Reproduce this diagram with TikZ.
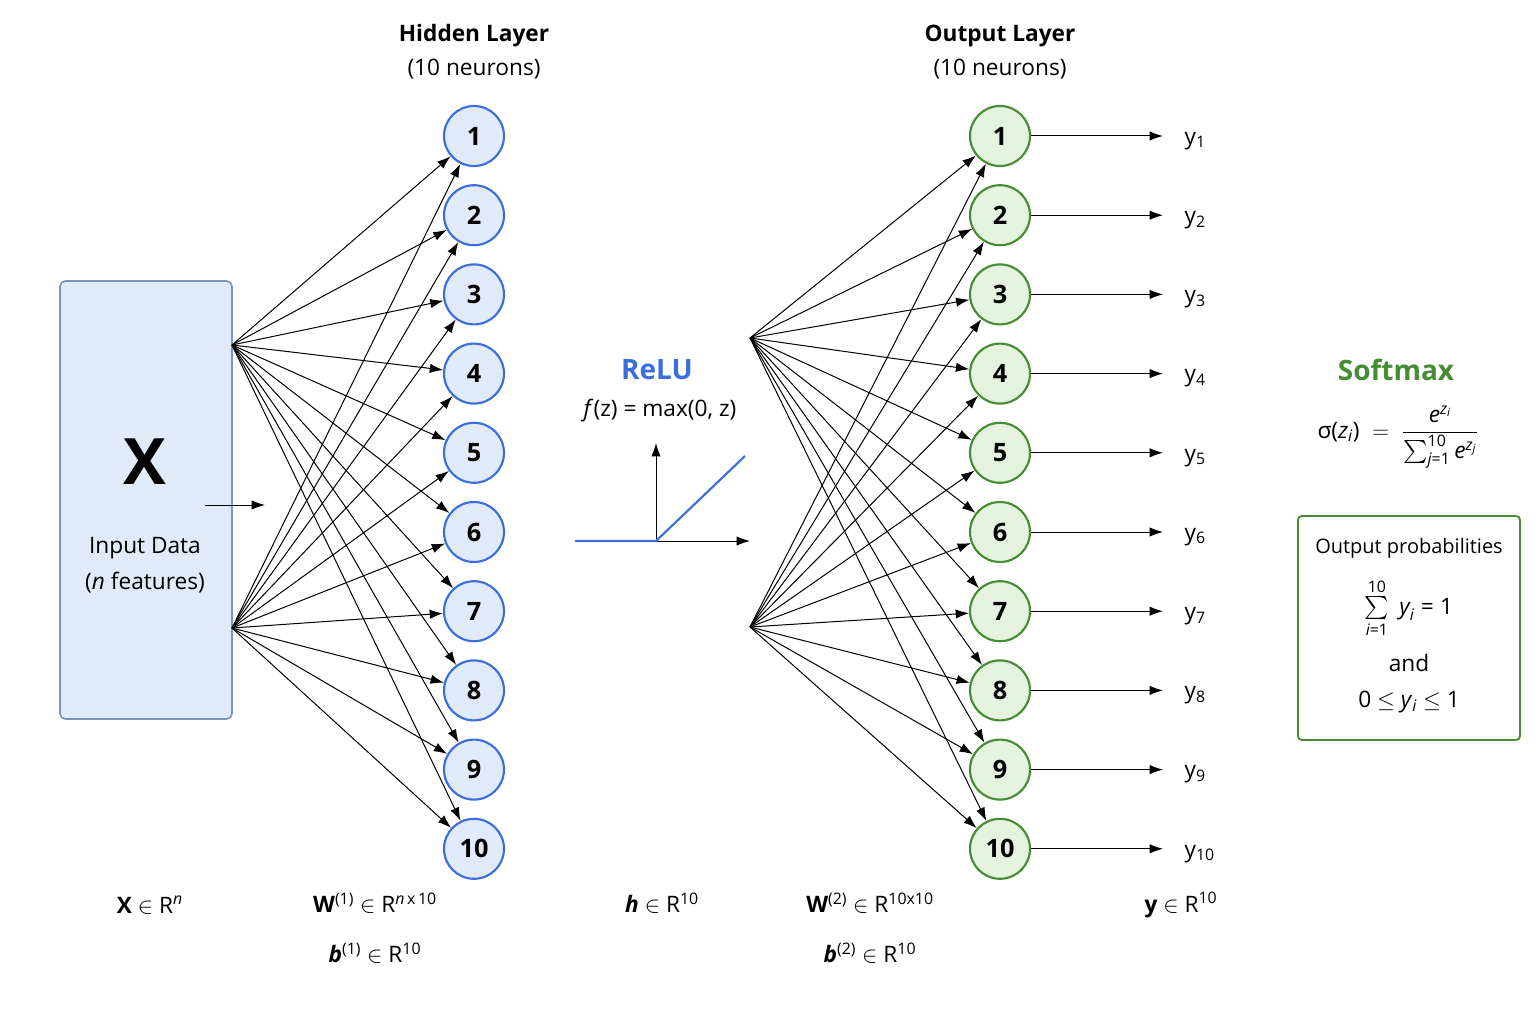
\documentclass[tikz,border=0pt]{standalone}
\usepackage{amsmath}
\usepackage{fontspec}
\setmainfont{Open Sans}
\usetikzlibrary{arrows.meta}
\definecolor{hidblue}{RGB}{58,110,220}
\definecolor{hidfill}{RGB}{225,234,248}
\definecolor{outgreen}{RGB}{70,140,50}
\definecolor{outfill}{RGB}{228,242,222}
\definecolor{inbord}{RGB}{120,150,190}
\newcommand{\tx}[1]{\text{#1}}
\newcommand{\ti}[1]{\textit{#1}}
\tikzset{
  hid/.style={circle,draw=hidblue,fill=hidfill,line width=1.6pt,minimum size=45pt,inner sep=0pt,font=\fontsize{19}{21}\selectfont\bfseries},
  outn/.style={circle,draw=outgreen,fill=outfill,line width=1.6pt,minimum size=45pt,inner sep=0pt,font=\fontsize{19}{21}\selectfont\bfseries},
  wire/.style={-{Latex[length=10pt,width=7pt]},line width=0.75pt},
  lbl/.style={font=\fontsize{17}{20}\selectfont},
}
\begin{document}
\begin{tikzpicture}[x=0.75pt,y=0.75pt,yscale=-1,xscale=1]
\useasboundingbox (0,0) rectangle (1536,1024);

% input box
\draw [draw=inbord,fill=hidfill,line width=1.2pt,rounded corners=4pt] (60,281) rectangle (232,719);
\node (X) at (145,462) {\fontsize{48}{50}\selectfont\bfseries X};
\node [lbl] (indata) at (145,548) {Input Data};
\node [lbl] (infeat) at (145,583) {(\textit{n} features)};
\coordinate (a1) at (205,505);
\coordinate (a2) at (265,505);
\draw [wire] (a1) -- (a2);
\coordinate (inA) at (232,345);
\coordinate (inB) at (232,628);

% hidden layer
\node [lbl,font=\fontsize{17}{20}\selectfont\bfseries] (htitle) at (474,36) {Hidden Layer};
\node [lbl] (hsub) at (474,69) {(10 neurons)};
\foreach \i in {1,...,10}
  \node [hid] (h\i) at (474,{136+79.2*(\i-1)}) {\i};
\foreach \i in {1,...,10} {
  \draw [wire] (inA) -- (h\i);
  \draw [wire] (inB) -- (h\i);
}

% ReLU
\node [font=\fontsize{21}{24}\selectfont\bfseries,text=hidblue] (relu) at (657,370) {ReLU};
\node [lbl] (reluf) at (660,411) {\textit{f}(z) = max(0, z)};
\coordinate (r0) at (656,541);
\coordinate (rx) at (750,541);
\coordinate (ry) at (656,443);
\draw [wire] (r0) -- (rx);
\draw [wire] (r0) -- (ry);
\draw [hidblue,line width=1.6pt] (575,541) -- (r0) -- (745,456);

% output layer
\node [lbl,font=\fontsize{17}{20}\selectfont\bfseries] (otitle) at (1000,36) {Output Layer};
\node [lbl] (osub) at (1000,69) {(10 neurons)};
\coordinate (hA) at (750,338);
\coordinate (hB) at (750,627);
\foreach \i in {1,...,10} {
  \node [outn] (o\i) at (1000,{136+79.2*(\i-1)}) {\i};
  \coordinate (e\i) at (1163,{136+79.2*(\i-1)});
  \node [lbl,anchor=west] (y\i) at (1180,{141+79.2*(\i-1)}) {y$_{\tx{\i}}$};
}
\foreach \i in {1,...,10} {
  \draw [wire] (hA) -- (o\i);
  \draw [wire] (hB) -- (o\i);
  \draw [wire] (o\i) -- (e\i);
}

% softmax
\node [font=\fontsize{21}{24}\selectfont\bfseries,text=outgreen] (smax) at (1396,370) {Softmax};
\node [lbl] (sform) at (1398,437) {$\tx{σ(}\ti{z}_{\ti{i}}\tx{)} \;=\; \dfrac{\ti{e}^{\ti{z}_{\ti{i}}}}{\sum_{\ti{j}\tx{=1}}^{\tx{10}} \ti{e}^{\ti{z}_{\ti{j}}}}$};
\draw [outgreen,line width=1.4pt,rounded corners=3pt] (1298,516) rectangle (1520,740);
\node [font=\fontsize{15}{18}\selectfont] (prob) at (1409,548) {Output probabilities};
\node [lbl] (psum) at (1409,608) {$\sum\limits_{\ti{i}\tx{=1}}^{\tx{10}} \;\ti{y}_{\ti{i}} \;\tx{=}\; \tx{1}$};
\node [lbl] (pand) at (1409,663) {and};
\node [lbl] (prange) at (1409,702) {0 $\le$ \textit{y}$_{\ti{i}}$ $\le$ 1};

% bottom labels
\node [lbl] (bX) at (150,905) {\textbf{X} $\in$ R$^{\ti{n}}$};
\node [lbl] (bW1) at (375,903) {\textbf{W}$^{\tx{(1)}}$ $\in$ R$^{\ti{n}\,\tx{x}\,\tx{10}}$};
\node [lbl] (bb1) at (375,953) {\textbf{\textit{b}}$^{\tx{(1)}}$ $\in$ R$^{\tx{10}}$};
\node [lbl] (bh) at (662,903) {\textbf{\textit{h}} $\in$ R$^{\tx{10}}$};
\node [lbl] (bW2) at (870,903) {\textbf{W}$^{\tx{(2)}}$ $\in$ R$^{\tx{10x10}}$};
\node [lbl] (bb2) at (870,953) {\textbf{\textit{b}}$^{\tx{(2)}}$ $\in$ R$^{\tx{10}}$};
\node [lbl] (by) at (1181,905) {\textbf{y} $\in$ R$^{\tx{10}}$};
\end{tikzpicture}
\end{document}
